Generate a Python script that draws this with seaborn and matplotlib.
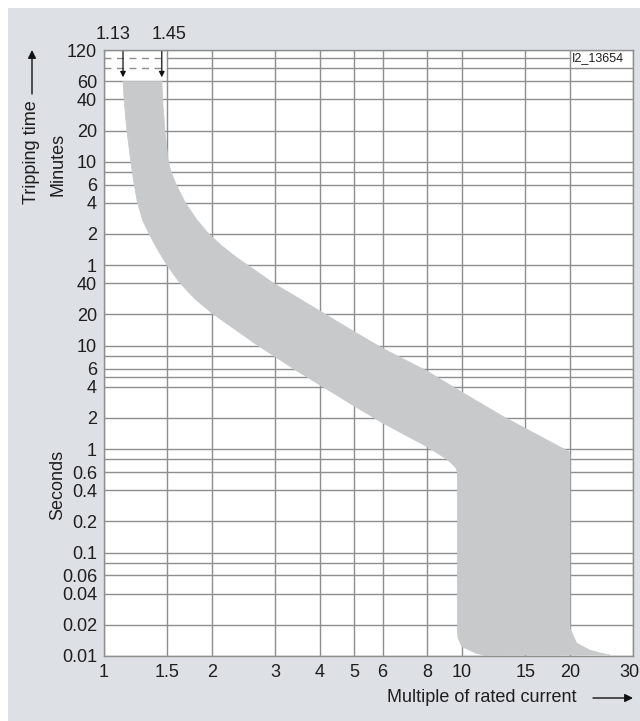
import numpy as np
import pandas as pd
import matplotlib.pyplot as plt
import seaborn as sns
from matplotlib.patches import Rectangle
from matplotlib.ticker import FixedLocator, NullLocator
import matplotlib.transforms as mtransforms

# tripping band (current multiple, time in seconds)
lower_x = [1.13, 1.14, 1.16, 1.19, 1.215, 1.241, 1.282, 1.342, 1.414, 1.5, 1.607,
           1.70, 1.81, 2.0, 2.653, 3.464, 5.0, 6.0, 8.0, 9.11, 9.39, 9.61, 9.7,
           9.7, 9.74, 10.0, 10.98, 11.7]
lower_t = [3600, 2209, 1159, 582, 357, 239, 163.6, 117.2, 83.9, 60.1, 43.0,
           34.4, 27.6, 20.65, 10.36, 5.68, 2.61, 1.79, 1.05, 0.79, 0.717, 0.656, 0.60,
           0.0185, 0.0149, 0.0123, 0.0106, 0.0101]
upper_x = [1.45, 1.46, 1.48, 1.51, 1.538, 1.597, 1.689, 1.81, 1.95, 2.127, 2.346,
           2.621, 2.98, 3.464, 5.0, 6.0, 8.0, 10.0, 13.06, 17.44, 19.9, 20.0,
           20.0, 20.87, 22.7, 24.2, 25.9]
upper_t = [3600, 2209, 1159, 622, 476, 349, 239, 167, 122.5, 92.7, 71.0,
           54.4, 39.8, 29.2, 13.6, 9.4, 5.64, 3.53, 2.05, 1.20, 0.94, 0.876,
           0.0185, 0.0133, 0.0114, 0.0107, 0.0102]

x_ticks = [1, 1.5, 2, 3, 4, 5, 6, 8, 10, 15, 20, 30]
x_labels = ['1', '1.5', '2', '3', '4', '5', '6', '8', '10', '15', '20', '30']
# seconds scale, minutes shown above 1 min
y_ticks = [0.01, 0.02, 0.04, 0.06, 0.1, 0.2, 0.4, 0.6, 1, 2, 4, 6, 10, 20, 40,
           60, 120, 240, 360, 600, 1200, 2400, 3600, 7200]
y_labels = ['0.01', '0.02', '0.04', '0.06', '0.1', '0.2', '0.4', '0.6', '1', '2', '4',
            '6', '10', '20', '40', '1', '2', '4', '6', '10', '20', '40', '60', '120']
y_minor = [0.08, 0.8, 5, 8, 480]
dashed_minutes = [80, 100]
marks = [1.13, 1.45]

sns.set_style('white')
plt.rcParams['font.family'] = ['Liberation Sans', 'DejaVu Sans']
txt = '#1e1e1e'
gridc = '#8e8e8e'
fs = 13

fig = plt.figure(figsize=(6.4, 7.21), dpi=100)
fig.patch.set_facecolor('white')
fig.patches.append(Rectangle((8 / 640, 0), 1, 713 / 721, transform=fig.transFigure,
                             facecolor='#dde1e5', edgecolor='none', zorder=-10))
ax = fig.add_axes([104 / 640, 65 / 721, 529 / 640, 606 / 721])
ax.set_facecolor('white')

band_x = lower_x + upper_x[::-1]
band_t = lower_t + upper_t[::-1]
ax.fill(band_x, band_t, color='#c8c9cb', lw=0, zorder=2)
edges = pd.DataFrame({'x': lower_x + upper_x, 't': lower_t + upper_t,
                      'edge': ['min'] * len(lower_x) + ['max'] * len(upper_x)})
sns.lineplot(data=edges, x='x', y='t', hue='edge', palette=['#c8c9cb', '#c8c9cb'],
             sort=False, estimator=None, lw=0.6, legend=False, ax=ax, zorder=2)

ax.set_xscale('log')
ax.set_yscale('log')
ax.set_xlim(1, 30)
ax.set_ylim(0.01, 7200)
ax.xaxis.set_major_locator(FixedLocator(x_ticks))
ax.xaxis.set_minor_locator(NullLocator())
ax.set_xticklabels(x_labels)
ax.yaxis.set_major_locator(FixedLocator(y_ticks))
ax.yaxis.set_minor_locator(FixedLocator(y_minor))
ax.set_yticklabels(y_labels)
ax.tick_params(which='both', length=0, labelsize=fs, colors=txt)
ax.tick_params(axis='x', pad=6)
ax.tick_params(axis='y', pad=5)
ax.grid(True, which='both', color=gridc, lw=1.0, zorder=1)
ax.set_axisbelow(True)
ax.set_xlabel('')
ax.set_ylabel('')
for s in ax.spines.values():
    s.set_color(gridc)
    s.set_linewidth(1.0)
    s.set_zorder(3)

# keep the last x label inside the picture
last = ax.get_xticklabels()[-1]
last.set_transform(last.get_transform() +
                   mtransforms.ScaledTranslation(-4 / 100, 0, fig.dpi_scale_trans))

# 80 / 100 min reference lines, dashed near the arrows
for m in dashed_minutes:
    ax.plot([1, 1.5], [m * 60, m * 60], color=gridc, lw=1.0, ls=(0, (5, 4)), zorder=1)
    ax.plot([1.5, 20 if m == 100 else 30], [m * 60, m * 60], color=gridc, lw=1.0, zorder=1)
ax.text(20.3, 100 * 60, 'I2_13654', fontsize=9, color=txt, va='center', ha='left')

trans = mtransforms.blended_transform_factory(ax.transData, ax.transAxes)
for v, dx in zip(marks, [-7, 5]):
    ax.annotate('', xy=(v, 0.955), xycoords=trans, xytext=(v, 0.998), textcoords=trans,
                arrowprops=dict(arrowstyle='-|>', color='#111111', lw=0.9,
                                mutation_scale=8, shrinkA=0, shrinkB=0))
    ax.annotate(f'{v:.2f}', xy=(v, 1.0), xycoords=trans, xytext=(dx, 11),
                textcoords='offset points', ha='center', va='center',
                fontsize=fs, color=txt, annotation_clip=False)

fig.text(31 / 640, 1 - 152 / 721, 'Tripping time', rotation=90, ha='center',
         va='center', fontsize=fs, color=txt)
fig.text(58 / 640, 1 - 164 / 721, 'Minutes', rotation=90, ha='center',
         va='center', fontsize=fs, color=txt)
fig.text(58 / 640, 1 - 485 / 721, 'Seconds', rotation=90, ha='center',
         va='center', fontsize=fs, color=txt)
fig.text(482 / 640, 1 - 698 / 721, 'Multiple of rated current', ha='center',
         va='center', fontsize=fs, color=txt)
ax.annotate('', xy=(32 / 640, 1 - 50 / 721), xycoords='figure fraction',
            xytext=(32 / 640, 1 - 94 / 721), textcoords='figure fraction',
            arrowprops=dict(arrowstyle='-|>', color='#111111', lw=1.0,
                            mutation_scale=12, shrinkA=0, shrinkB=0))
ax.annotate('', xy=(633 / 640, 1 - 698 / 721), xycoords='figure fraction',
            xytext=(593 / 640, 1 - 698 / 721), textcoords='figure fraction',
            arrowprops=dict(arrowstyle='-|>', color='#111111', lw=1.0,
                            mutation_scale=12, shrinkA=0, shrinkB=0))

fig.savefig('out.png', dpi=100)
